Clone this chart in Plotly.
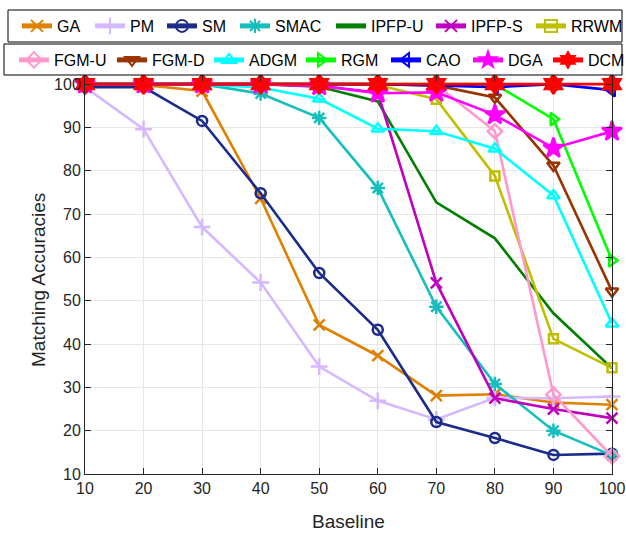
import plotly.graph_objects as go

# Baseline values on the x axis
baseline = [10, 20, 30, 40, 50, 60, 70, 80, 90, 100]

# Matching accuracy (%) of each method
GA = [99.6, 99.8, 98.4, 73.6, 44.4, 37.3, 28.1, 28.4, 26.5, 26.0]
PM = [99.3, 89.6, 67.0, 54.2, 34.8, 26.9, 22.6, 27.6, 27.5, 27.9]
SM = [99.3, 99.3, 91.5, 74.8, 56.4, 43.3, 22.0, 18.3, 14.4, 14.7]
SMAC = [100, 100, 100, 97.8, 92.2, 76.0, 48.6, 30.8, 20.0, 14.3]
IPFP_U = [100, 100, 100, 100, 99.4, 96.0, 72.7, 64.4, 47.1, 34.4]
IPFP_S = [100, 100, 100, 100, 99.6, 98.0, 54.1, 27.5, 25.0, 22.9]
RRWM = [100, 100, 100, 100, 100, 99.8, 96.5, 78.8, 41.2, 34.5]
FGM_U = [100, 100, 100, 100, 100, 100, 99.8, 89.1, 28.3, 14.1]
FGM_D = [100, 100, 100, 100, 100, 100, 99.7, 96.9, 81.2, 52.2]
ADGM = [100, 100, 100, 99.2, 96.6, 89.7, 89.1, 85.1, 74.3, 44.7]
RGM = [100, 100, 100, 100, 100, 100, 100, 100, 91.9, 59.3]
CAO = [100, 100, 100, 100, 100, 100, 99.7, 99.3, 100, 98.6]
DGA = [100, 100, 100, 100, 99.6, 97.9, 98.1, 92.9, 85.2, 89.1]
DCM = [100, 100, 100, 100, 100, 100, 100, 100, 100, 100]

# name, values, colour, marker symbol, marker size
series = [
    ("GA", GA, "#E08000", "x-thin-open", 11),
    ("PM", PM, "#D6B8FF", "cross-thin-open", 12),
    ("SM", SM, "#1A2B8C", "circle-open", 10),
    ("SMAC", SMAC, "#17BEBE", "asterisk-open", 12),
    ("IPFP-U", IPFP_U, "#007F00", None, 0),
    ("IPFP-S", IPFP_S, "#BF00BF", "x-thin-open", 11),
    ("RRWM", RRWM, "#BFBF00", "square-open", 9),
    ("FGM-U", FGM_U, "#FF99CC", "diamond-open", 11),
    ("FGM-D", FGM_D, "#993300", "triangle-down-open", 11),
    ("ADGM", ADGM, "#00FFFF", "triangle-up-open", 11),
    ("RGM", RGM, "#00FF00", "triangle-right-open", 11),
    ("CAO", CAO, "#0000FF", "triangle-left-open", 11),
    ("DGA", DGA, "#FF00FF", "star", 15),
    ("DCM", DCM, "#FF0000", "hexagram", 15),
]

font_family = "Liberation Sans, Arial, Helvetica, sans-serif"
axis_color = "#262626"

W, H = 626, 534
M_L, M_R, M_T, M_B = 85, 14, 75, 60
plot_w = W - M_L - M_R
plot_h = H - M_T - M_B


def px_x(p):
    return (p - M_L) / plot_w


def px_y(p):
    return 1 + (M_T - p) / plot_h


# legend rows: two framed boxes, seven entries each (x = where each label starts)
ROW_TEXT_X = [
    [58, 131, 203, 276, 372, 472, 572],
    [55, 153, 250, 342, 427, 509, 589],
]
ROW_CENTER_Y = [26, 60]
BOXES = [(8, 10, 622, 42), (4, 44, 622, 75)]
TEXT_GAP = 40  # symbol width (30) + two item gaps (5 each)

fig = go.Figure()
legend_layouts = {}
for i, (name, vals, color, sym, size) in enumerate(series):
    row, col = divmod(i, 7)
    key = f"legend{i + 2}"
    if sym is None:
        mode = "lines"
        marker = None
    else:
        mode = "lines+markers"
        marker = dict(symbol=sym, size=size, color=color,
                      line=dict(color=color, width=2.5))
    fig.add_trace(go.Scatter(
        x=baseline, y=vals, name=name, mode=mode,
        line=dict(color=color, width=2.6),
        marker=marker, legend=key, cliponaxis=False,
    ))
    legend_layouts[key] = dict(
        x=px_x(ROW_TEXT_X[row][col] - TEXT_GAP - 1),
        y=px_y(ROW_CENTER_Y[row]),
        xref="paper", yref="paper",
        xanchor="left", yanchor="middle",
        orientation="h", bgcolor="rgba(0,0,0,0)", borderwidth=0,
        itemsizing="constant",
        font=dict(family=font_family, size=16, color="#000000"),
    )

shapes = [
    dict(type="rect", xref="paper", yref="paper",
         x0=px_x(x0), x1=px_x(x1), y0=px_y(y1), y1=px_y(y0),
         line=dict(color="#000000", width=1), fillcolor="white", layer="above")
    for (x0, y0, x1, y1) in BOXES
]

# axis titles
annotations = [
    dict(text="Baseline", xref="paper", yref="paper",
         x=0.5, y=px_y(521), xanchor="center", yanchor="middle",
         showarrow=False, font=dict(size=19, color=axis_color)),
    dict(text="Matching Accuracies", xref="paper", yref="paper",
         x=px_x(38), y=px_y(280), xanchor="center", yanchor="middle",
         textangle=-90, showarrow=False, font=dict(size=19, color=axis_color)),
]

fig.update_layout(
    width=W, height=H,
    margin=dict(l=M_L, r=M_R, t=M_T, b=M_B, autoexpand=False),
    paper_bgcolor="white", plot_bgcolor="white",
    font=dict(family=font_family, size=16, color=axis_color),
    shapes=shapes,
    annotations=annotations,
    showlegend=True,
    xaxis=dict(
        range=[10, 100], tickvals=baseline, ticks="inside", ticklen=6,
        tickcolor=axis_color, showline=True, linecolor=axis_color, linewidth=1,
        mirror="ticks", showgrid=True, gridcolor="#E6E6E6", gridwidth=1,
        zeroline=False, automargin=False, tickfont=dict(size=16, color=axis_color),
    ),
    yaxis=dict(
        range=[10, 102.1], tickvals=[10, 20, 30, 40, 50, 60, 70, 80, 90, 100],
        ticks="inside", ticklen=6, tickcolor=axis_color,
        showline=True, linecolor=axis_color, linewidth=1, mirror="ticks",
        showgrid=True, gridcolor="#E6E6E6", gridwidth=1, zeroline=False,
        automargin=False, tickfont=dict(size=16, color=axis_color),
    ),
    **legend_layouts,
)

fig.write_html("out.html")
